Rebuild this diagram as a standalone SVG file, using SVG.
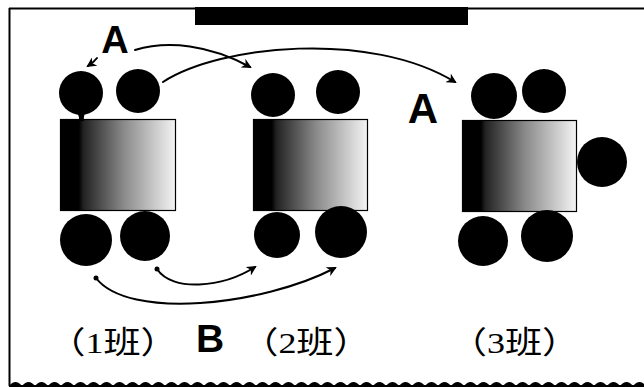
<svg xmlns="http://www.w3.org/2000/svg" width="644" height="387" viewBox="0 0 644 387">
<style>
.frame{stroke:#000;stroke-width:2;fill:none}
.desk{stroke:#000;stroke-width:1.2;fill:url(#deskGrad)}
.kid{fill:#000}
.conn{fill:none;stroke:#000;stroke-width:2;stroke-linecap:round}
.lbl{font-family:"Liberation Sans",Arial,sans-serif;font-weight:bold;fill:#000}
.cls{font-family:"Noto Sans CJK SC","Noto Sans CJK JP",sans-serif;font-size:31px;fill:#000}
.dig{font-family:"Liberation Serif","Noto Sans CJK SC",serif;font-size:30px}
</style>
<defs>
<linearGradient id="deskGrad" x1="0" y1="0" x2="1" y2="0">
<stop offset="0" stop-color="#000"/>
<stop offset="0.16" stop-color="#000"/>
<stop offset="0.2" stop-color="#222"/>
<stop offset="0.55" stop-color="#8a8a8a"/>
<stop offset="1" stop-color="#f4f4f4"/>
</linearGradient>
<marker id="arr" viewBox="0 0 10 10" refX="8" refY="5" markerWidth="10" markerHeight="10" markerUnits="userSpaceOnUse" orient="auto">
<path d="M0,0 L10,5 L0,10 L3,5 Z" fill="#000"/>
</marker>
<pattern id="wave" x="9" y="378" width="13" height="9" patternUnits="userSpaceOnUse">
<path d="M0,8 Q6.5,0 13,8 Z" fill="#000"/>
<rect x="0" y="7" width="13" height="2" fill="#000"/>
</pattern>
</defs>

<g id="frame">
<line class="frame" x1="9.5" y1="8" x2="9.5" y2="386"/>
<line class="frame" x1="9" y1="8.5" x2="644" y2="8.5"/>
<rect x="195" y="7" width="273" height="18" fill="#000"/>
<rect x="9" y="378" width="635" height="9" fill="url(#wave)"/>
</g>

<g id="class1">
<rect class="desk" x="60.5" y="119.5" width="115" height="91"/>
<g id="c1-top1"><circle class="kid" cx="81" cy="93" r="22"/><path class="kid" d="M75,110 Q80,116 79,121 L84,121 Q83,115 87,110 Z"/></g>
<circle id="c1-top2" class="kid" cx="138" cy="91" r="22"/>
<circle id="c1-bot1" class="kid" cx="86" cy="240" r="26"/>
<circle id="c1-bot2" class="kid" cx="145" cy="236" r="25"/>
</g>

<g id="class2">
<rect class="desk" x="253.5" y="119.5" width="114" height="91"/>
<circle id="c2-top1" class="kid" cx="273" cy="95" r="22"/>
<circle id="c2-top2" class="kid" cx="338" cy="92" r="22"/>
<circle id="c2-bot1" class="kid" cx="277" cy="235" r="23"/>
<circle id="c2-bot2" class="kid" cx="341" cy="232" r="26"/>
</g>

<g id="class3">
<rect class="desk" x="462.5" y="120.5" width="114" height="91"/>
<circle id="c3-top1" class="kid" cx="494" cy="96" r="23"/>
<circle id="c3-top2" class="kid" cx="544" cy="91" r="22"/>
<circle id="c3-side" class="kid" cx="602" cy="162" r="25"/>
<circle id="c3-bot1" class="kid" cx="483" cy="241" r="25"/>
<circle id="c3-bot2" class="kid" cx="547" cy="236" r="26"/>
</g>

<g id="connectors">
<path class="conn" d="M97,58 Q94,62 88,66" marker-end="url(#arr)"/>
<path class="conn" d="M135,50 C168,40 210,45 250,67" marker-end="url(#arr)"/>
<path class="conn" d="M163,82 C220,45 370,30 455,82" marker-end="url(#arr)"/>
<circle cx="157" cy="269" r="2.5" fill="#000"/>
<path class="conn" d="M157,269 C172,292 222,288 255,267" marker-end="url(#arr)"/>
<circle cx="96" cy="278" r="2.5" fill="#000"/>
<path class="conn" d="M96,278 C128,320 262,306 335,268" marker-end="url(#arr)"/>
</g>

<g id="labels">
<text class="lbl" x="115" y="53" font-size="38" text-anchor="middle">A</text>
<text class="lbl" x="423" y="123" font-size="42" text-anchor="middle">A</text>
<text class="lbl" x="210" y="352" font-size="39" text-anchor="middle">B</text>
</g>

<g id="class-names" transform="scale(1.2,1)">
<text class="cls" x="40.2" y="353">（<tspan class="dig">1</tspan>班）</text>
<text class="cls" x="201" y="353">（<tspan class="dig">2</tspan>班）</text>
<text class="cls" x="374.75" y="353">（<tspan class="dig">3</tspan>班）</text>
</g>
</svg>
